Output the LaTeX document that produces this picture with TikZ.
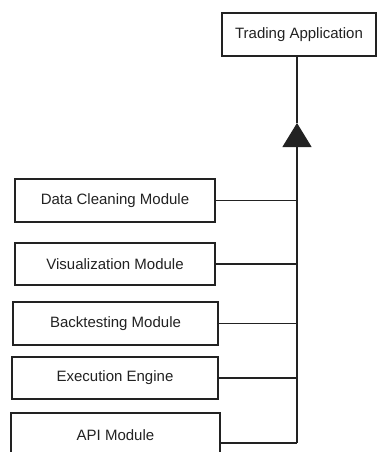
\documentclass[tikz,border=0pt]{standalone}
\usepackage{fontspec}
\setmainfont{Liberation Sans}
\usetikzlibrary{arrows.meta}
\definecolor{ink}{HTML}{222222}
\tikzset{
  module/.style={draw=ink, line width=1.3pt, fill=white, minimum width=#1, minimum height=43pt,
    inner sep=0pt, font=\fontsize{15pt}{17pt}\selectfont, text=ink},
  module/.default=202pt,
  wire/.style={draw=ink, line width=1.2pt},
}
\begin{document}
\begin{tikzpicture}[x=1pt,y=-1pt]
  \useasboundingbox (0,0) rectangle (383,452);
  % top-level application
  \node[module=154pt] (app) at (299,34.5) {Trading Application};
  % component modules
  \node[module=200pt] (clean) at (115,200.5) {Data Cleaning Module};
  \node[module=200pt, minimum height=42pt] (vis) at (115,264) {Visualization Module};
  \node[module=205pt] (back) at (115.5,323.5) {Backtesting Module};
  \node[module=206pt, minimum height=42pt] (exec) at (115,378) {Execution Engine};
  \node[module=209pt, minimum height=45pt] (api) at (115.5,435.5) {API Module};
  % bus junctions
  \coordinate (jclean) at (297,200.5);
  \coordinate (jvis) at (297,264);
  \coordinate (jback) at (297,323.5);
  \coordinate (jexec) at (297,378);
  \coordinate (japi) at (297,443);
  \coordinate (tip) at (297,123);
  % connectors into the bus
  \draw[wire] (clean.east) -- (jclean);
  \draw[wire] (vis.east) -- (jvis);
  \draw[wire] (back.east) -- (jback);
  \draw[wire] (exec.east) -- (jexec);
  \draw[wire] (api.east |- japi) -- (japi);
  % bus with generalization arrow up to the application
  \draw[wire, -{Triangle[length=24pt,width=29pt]}] (japi) -- (tip);
  \draw[wire] (tip) -- (app.south -| tip);
\end{tikzpicture}
\end{document}
